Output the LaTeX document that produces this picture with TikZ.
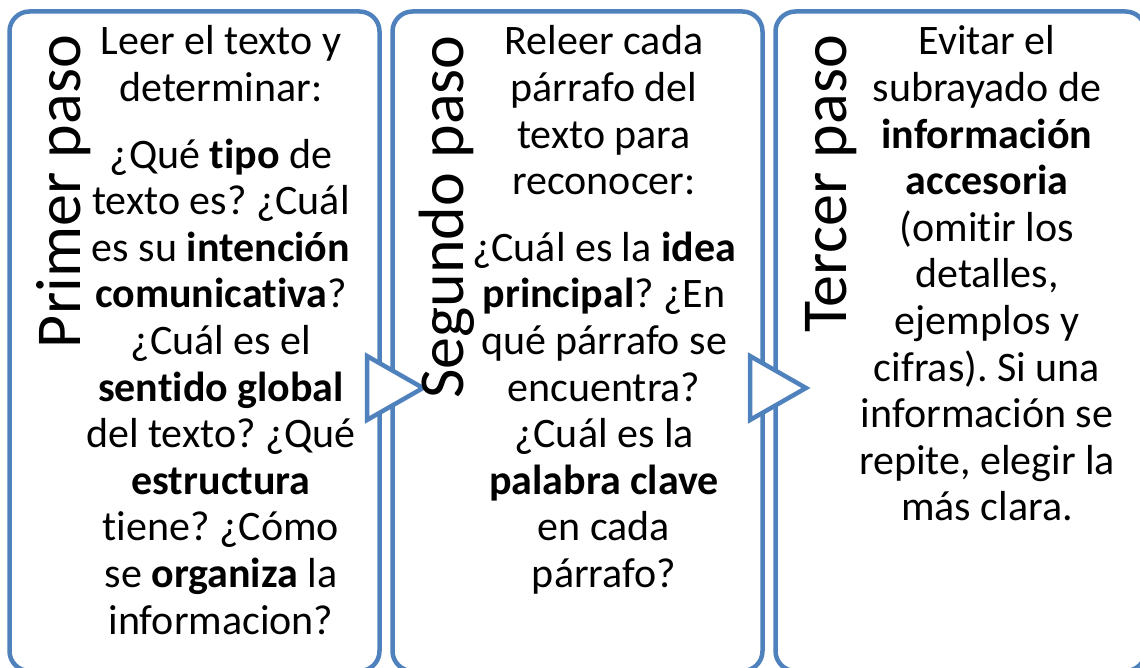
\documentclass[tikz,border=0pt]{standalone}
\usepackage{fontspec}
\setmainfont{Carlito}[Ligatures=NoCommon]
\usetikzlibrary{positioning,calc}
\definecolor{azulpaso}{HTML}{4F81BD}
\frenchspacing

\begin{document}
\begin{tikzpicture}[x=1pt,y=-1pt,
    caja/.style={draw=azulpaso,line width=4.5pt,rounded corners=20pt,minimum width=370pt,
                 minimum height=659.5pt,inner sep=0pt,outer sep=0pt},
    titulo/.style={rotate=90,anchor=base east,inner sep=0pt,font=\fontsize{64}{64}\selectfont},
    texto/.style={align=center,inner sep=0pt,font=\fontsize{42}{46.6}\selectfont},
    flecha/.style={draw=azulpaso,fill=white,line width=4.5pt}]
    \useasboundingbox (0,0) rectangle (1140,668);
    \clip (0,0) rectangle (1140,668);
    % las tres cajas
    \node[caja] (primero) at (194.5,341.25) {};
    \node[caja,right=13pt of primero] (segundo) {};
    \node[caja,right=13pt of segundo] (tercero) {};
    % flechas entre cajas
    \coordinate (puntaA) at ($(primero.east)+(43.5,46.75)$);
    \coordinate (puntaB) at ($(segundo.east)+(43.5,46.75)$);
    \draw[flecha] ($(primero.east)+(-12.5,14.75)$) -- (puntaA) -- ($(primero.east)+(-12.5,78.75)$) -- cycle;
    \draw[flecha] ($(segundo.east)+(-12.5,14.75)$) -- (puntaB) -- ($(segundo.east)+(-12.5,78.75)$) -- cycle;
    % titulos
    \node[titulo] (tituloA) at ([xshift=70.5pt,yshift=-23.5pt]primero.north west) {Primer paso};
    \node[titulo] (tituloB) at ([xshift=70.5pt,yshift=-23.5pt]segundo.north west) {Segundo paso};
    \node[titulo] (tituloC) at ([xshift=70.5pt,yshift=-23.5pt]tercero.north west) {Tercer paso};
    % textos
    \node[texto,below=14pt of primero.north,xshift=26.5pt] (textoA) {Leer el texto y\\ determinar:\\[20pt]
        ¿Qué \textbf{tipo} de\\ texto es? ¿Cuál\\ es su \textbf{intención}\\ \textbf{comunicativa}?\\
        ¿Cuál es el\\ \textbf{sentido global}\\ del texto? ¿Qué\\ \textbf{estructura}\\ tiene? ¿Cómo\\
        se \textbf{organiza} la\\ informacion?};
    \node[texto,below=14pt of segundo.north,xshift=26.5pt] (textoB) {Releer cada\\ párrafo del\\ texto para\\
        reconocer:\\[20pt] ¿Cuál es la \textbf{idea}\\ \textbf{principal}? ¿En\\ qué párrafo se\\
        encuentra?\\ ¿Cuál es la\\ \textbf{palabra clave}\\ en cada\\ párrafo?};
    \node[texto,below=14pt of tercero.north,xshift=26.5pt] (textoC) {Evitar el\\ subrayado de\\
        \textbf{información}\\ \textbf{accesoria}\\ (omitir los\\ detalles,\\ ejemplos y\\
        cifras). Si una\\ información se\\ repite, elegir la\\ más clara.};
\end{tikzpicture}
\end{document}
